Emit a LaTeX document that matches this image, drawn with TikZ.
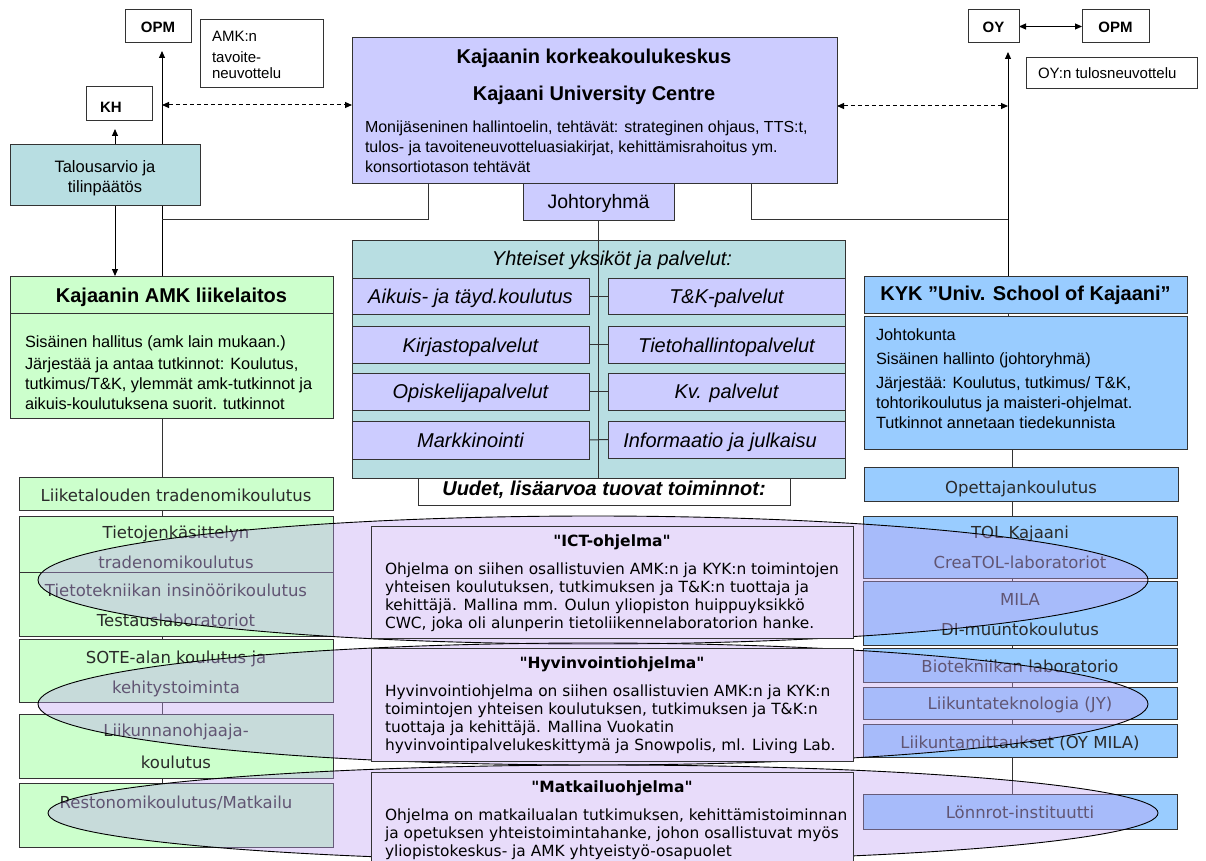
\documentclass[tikz,border=0pt]{standalone}
\usepackage{fontspec}
\setmainfont{Liberation Sans}
\newfontfamily\dv{DejaVu Sans}
\usetikzlibrary{arrows.meta}
\pgfdeclarelayer{bg}
\pgfdeclarelayer{ell}
\pgfdeclarelayer{top}
\pgfsetlayers{bg,main,ell,top}
\definecolor{cmain}{HTML}{CCCCFF}
\definecolor{cteal}{HTML}{B8DEE2}
\definecolor{cgreen}{HTML}{CCFFCC}
\definecolor{cblue}{HTML}{99CCFF}
\definecolor{clav}{HTML}{E8DCFA}
\definecolor{cell}{RGB}{192,160,242}
\definecolor{cline}{HTML}{333333}
\definecolor{ctxt}{HTML}{2A2A2A}
\newcommand\fsz[1]{\fontsize{#1}{#1}\selectfont}
\newcommand\sqd{\XeTeXglyph\XeTeXcharglyph"22\relax}
\newcommand\mybox[6]{\node[bxs,#2,anchor=north west,minimum width=#5pt-#3pt,minimum height=#6pt-#4pt] (#1) at (#3,#4) {};}
\tikzset{
  bxs/.style={rectangle,draw=cline,line width=1pt,inner sep=0pt,outer sep=0pt},
  tx/.style={inner sep=0pt,outer sep=0pt,anchor=base west},
  tc/.style={inner sep=0pt,outer sep=0pt,anchor=base},
  ln/.style={draw=cline,line width=1pt},
  arr/.style={draw=black,line width=1pt,-{Triangle[length=7pt,width=6pt]}},
  darr/.style={draw=black,line width=1pt,{Triangle[length=7pt,width=6pt]}-{Triangle[length=7pt,width=6pt]}},
  dsh/.style={dash pattern=on 4pt off 3pt},
  elst/.style={draw=black,line width=0.9pt,fill=cell,fill opacity=0.37},
  lowL/.style={tc,font=\dv\fsz{16.5},text=ctxt},
  body/.style={tx,font=\fsz{16.3}},
  prog/.style={tx,font=\dv\fsz{15.4}},
  ptitle/.style={tc,font=\dv\bfseries\fsz{15.5}},
  rowt/.style={tc,font=\itshape\fsz{20}}
}
\begin{document}
\begin{tikzpicture}[x=1pt,y=-1pt]
\begin{pgfonlayer}{bg}
\fill[white] (0,0) rectangle (1206,861);
\end{pgfonlayer}
\useasboundingbox (0,0) rectangle (1206,861);
% ---------- top boxes
\mybox{opmL}{fill=white}{125}{10}{191}{43}
\mybox{amkn}{fill=white}{200}{20}{323}{88}
\mybox{kh}{fill=white}{86}{87}{152}{121}
\mybox{talous}{fill=cteal}{10}{145}{200}{205}
\mybox{main}{fill=cmain}{352}{38}{837}{183}
\mybox{johto}{fill=cmain}{523}{183}{674}{220}
\mybox{oy}{fill=white}{968}{10}{1019}{43}
\mybox{opmR}{fill=white}{1082}{10}{1149}{43}
\mybox{oyt}{fill=white}{1026}{58}{1197}{89}
\mybox{amkh}{fill=cgreen}{10}{276}{333}{313}
\mybox{amkb}{fill=cgreen}{10}{313}{333}{418}
\mybox{yht}{fill=cteal}{352}{240}{845}{478}
\mybox{uud}{fill=white}{418}{478}{790}{505}
\draw[ln] (johto.south) -- (johto.south |- uud.north);
\mybox{a1}{fill=cmain}{352}{278}{589}{314}
\mybox{a2}{fill=cmain}{352}{326}{589}{363}
\mybox{a3}{fill=cmain}{352}{373}{589}{410}
\mybox{a4}{fill=cmain}{352}{421}{589}{459}
\mybox{b1}{fill=cmain}{608}{278}{845}{314}
\mybox{b2}{fill=cmain}{608}{326}{845}{363}
\mybox{b3}{fill=cmain}{608}{373}{845}{410}
\mybox{b4}{fill=cmain}{608}{421}{845}{458}
\draw[ln] (a1.east) -- (b1.west);
\draw[ln] (a2.east) -- (b2.west);
\draw[ln] (a3.east) -- (b3.west);
\draw[ln] (a4.east) -- (b4.west);
\mybox{kykh}{fill=cblue}{864}{276}{1187}{313}
\mybox{kykb}{fill=cblue}{864}{316}{1187}{449}
\mybox{opet}{fill=cblue}{864}{467}{1178}{501}
\mybox{liike}{fill=cgreen}{19}{477}{333}{510}
\mybox{tk1}{fill=cgreen}{19}{516}{333}{572}
\mybox{tk2}{fill=cgreen}{19}{572}{333}{636}
\mybox{sote}{fill=cgreen}{19}{639}{333}{702}
\mybox{liik}{fill=cgreen}{19}{714}{333}{778}
\mybox{resto}{fill=cgreen}{19}{783}{333}{847}
\mybox{tol}{fill=cblue}{863}{516}{1177}{578}
\mybox{mila}{fill=cblue}{863}{581}{1177}{645}
\mybox{bio}{fill=cblue}{863}{648}{1177}{682}
\mybox{ltek}{fill=cblue}{863}{687}{1177}{719}
\mybox{lmit}{fill=cblue}{863}{724}{1177}{757}
\mybox{lonn}{fill=cblue}{863}{794}{1177}{829}
% ---------- connectors (behind)
\coordinate (xL) at (162,0);
\coordinate (xK) at (115,0);
\coordinate (xR) at (1008,0);
\coordinate (xR2) at (1012,0);
\coordinate (cL) at (428,219);
\coordinate (cR) at (751,219);
\coordinate (dL) at (162,105);
\coordinate (dR) at (1008,106);
\begin{pgfonlayer}{bg}
\draw[arr,shorten >=8pt] (amkh.north -| xL) -- (opmL.south -| xL);
\draw[arr,shorten >=8pt] (talous.north -| xK) -- (kh.south -| xK);
\draw[arr] (talous.south -| xK) -- (amkh.north -| xK);
\draw[ln] (main.south -| cL) -- (cL) -- (cL -| xL);
\draw[darr,dsh] (dL) -- (dL -| main.west);
\draw[arr,shorten >=9pt] (kykh.north -| xR) -- (oy.south -| xR);
\draw[ln] (main.south -| cR) -- (cR) -- (cR -| xR);
\draw[darr,dsh] (dR -| main.east) -- (dR);
\draw[darr] (oy.east) -- (opmR.west);
\draw[ln] (amkb.south -| xL) -- (liike.north -| xL);
\draw[ln] (liike.south -| xL) -- (tk1.north -| xL);
\draw[ln] (tk2.south -| xL) -- (sote.north -| xL);
\draw[ln] (sote.south -| xL) -- (liik.north -| xL);
\draw[ln] (liik.south -| xL) -- (resto.north -| xL);
\draw[ln] (kykh.south -| xR) -- (kykb.north -| xR);
\draw[ln] (kykb.south -| xR2) -- (opet.north -| xR2);
\draw[ln] (opet.south -| xR2) -- (tol.north -| xR2);
\draw[ln] (tol.south -| xR2) -- (mila.north -| xR2);
\draw[ln] (mila.south -| xR2) -- (bio.north -| xR2);
\draw[ln] (bio.south -| xR2) -- (ltek.north -| xR2);
\draw[ln] (ltek.south -| xR2) -- (lmit.north -| xR2);
\draw[ln] (lmit.south -| xR2) -- (lonn.north -| xR2);
\end{pgfonlayer}
% ---------- texts top
\node[tc,font=\bfseries\fsz{15}] (topmL) at (158,33) {OPM};
\node[tx,font=\fsz{15}] (tam1) at (212,42) {AMK:n};
\node[tx,font=\fsz{15}] (tam2) at (212,63) {tavoite-};
\node[tx,font=\fsz{15}] (tam3) at (212,79) {neuvottelu};
\node[tc,font=\bfseries\fsz{15}] (tkh) at (111,112.5) {KH};
\node[tc,font=\fsz{16.5}] (tta1) at (105,173) {Talousarvio ja};
\node[tc,font=\fsz{16.5}] (tta2) at (105,193) {tilinpäätös};
\node[tc,font=\bfseries\fsz{20}] (tm1) at (594,64) {Kajaanin korkeakoulukeskus};
\node[tc,font=\bfseries\fsz{20}] (tm2) at (594,101) {Kajaani University Centre};
\node[tx,font=\fsz{16}] (tm3) at (365,133) {Monijäseninen hallintoelin, tehtävät: strateginen ohjaus, TTS:t,};
\node[tx,font=\fsz{16}] (tm4) at (365,153) {tulos- ja tavoiteneuvotteluasiakirjat, kehittämisrahoitus ym.};
\node[tx,font=\fsz{16}] (tm5) at (365,173) {konsortiotason tehtävät};
\node[tc,font=\fsz{19.5}] (tjo) at (598.5,208.5) {Johtoryhmä};
\node[tc,font=\bfseries\fsz{15}] (toy) at (993.5,33) {OY};
\node[tc,font=\bfseries\fsz{15}] (topmR) at (1115.5,33) {OPM};
\node[tx,font=\fsz{15}] (toyt) at (1038,79) {OY:n tulosneuvottelu};
% AMK
\node[tc,font=\bfseries\fsz{20}] (tah) at (171.5,302) {Kajaanin AMK liikelaitos};
\node[body] (tab1) at (25,347) {Sisäinen hallitus (amk lain mukaan.)};
\node[body] (tab2) at (25,369) {Järjestää ja antaa tutkinnot: Koulutus,};
\node[body] (tab3) at (25,389) {tutkimus/T\&K, ylemmät amk-tutkinnot ja};
\node[body] (tab4) at (25,409) {aikuis-koulutuksena suorit. tutkinnot};
% Yhteiset
\node[tc,font=\itshape\fsz{20}] (tyh) at (612,265) {Yhteiset yksiköt ja palvelut:};
\node[rowt] (ta1) at (470.5,303) {Aikuis- ja täyd.koulutus};
\node[rowt] (ta2) at (470.5,352) {Kirjastopalvelut};
\node[rowt] (ta3) at (470.5,398.5) {Opiskelijapalvelut};
\node[rowt] (ta4) at (470.5,447) {Markkinointi};
\node[rowt] (tb1) at (726.5,303) {T\&K-palvelut};
\node[rowt] (tb2) at (726.5,352) {Tietohallintopalvelut};
\node[rowt] (tb3) at (726.5,398.5) {Kv. palvelut};
\node[rowt] (tb4) at (720,447) {Informaatio ja julkaisu};
\node[tc,font=\bfseries\itshape\fsz{20}] (tuu) at (604,495) {Uudet, lisäarvoa tuovat toiminnot:};
% KYK
\node[tc,font=\bfseries\fsz{20}] (tkh2) at (1025.5,300) {KYK ”Univ. School of Kajaani”};
\node[body] (tk1t) at (876,340) {Johtokunta};
\node[body] (tk2t) at (876,364) {Sisäinen hallinto (johtoryhmä)};
\node[body] (tk3t) at (876,388) {Järjestää: Koulutus, tutkimus/ T\&K,};
\node[body] (tk4t) at (876,408) {tohtorikoulutus ja maisteri-ohjelmat.};
\node[body] (tk5t) at (876,428) {Tutkinnot annetaan tiedekunnista};
\node[lowL] (top1) at (1021,493) {Opettajankoulutus};
% left lower
\node[lowL] (tl1) at (176,501) {Liiketalouden tradenomikoulutus};
\node[lowL] (tl2) at (176,538) {Tietojenkäsittelyn};
\node[lowL] (tl3) at (176,568) {tradenomikoulutus};
\node[lowL] (tl4) at (176,596) {Tietotekniikan insinöörikoulutus};
\node[lowL] (tl5) at (176,626) {Testauslaboratoriot};
\node[lowL] (tl6) at (176,663) {SOTE-alan koulutus ja};
\node[lowL] (tl7) at (176,693) {kehitystoiminta};
\node[lowL] (tl8) at (176,736) {Liikunnanohjaaja-};
\node[lowL] (tl9) at (176,768) {koulutus};
\node[lowL] (tl10) at (176,808) {Restonomikoulutus/Matkailu};
% right lower
\node[lowL] (tr1) at (1020,538) {TOL Kajaani};
\node[lowL] (tr2) at (1020,568) {CreaTOL-laboratoriot};
\node[lowL] (tr3) at (1020,605) {MILA};
\node[lowL] (tr4) at (1020,635) {DI-muuntokoulutus};
\node[lowL] (tr5) at (1020,672) {Biotekniikan laboratorio};
\node[lowL] (tr6) at (1020,709) {Liikuntateknologia (JY)};
\node[lowL] (tr7) at (1020,748) {Liikuntamittaukset (OY MILA)};
\node[lowL] (tr8) at (1020,818) {Lönnrot-instituutti};
% ---------- ellipses
\begin{pgfonlayer}{ell}
\draw[elst] (593,580) ellipse [x radius=555pt, y radius=64pt];
\draw[elst] (593,704) ellipse [x radius=555pt, y radius=61pt];
\draw[elst] (603,813) ellipse [x radius=555pt, y radius=48pt];
\end{pgfonlayer}
% ---------- programme boxes
\begin{pgfonlayer}{top}
\mybox{ict}{fill=clav}{371}{526}{853}{638}
\mybox{hyv}{fill=clav}{371}{648}{853}{761}
\mybox{mat}{fill=clav}{371}{772}{853}{872}
\node[ptitle] (pi0) at (612,546.5) {\sqd ICT-ohjelma\sqd};
\node[prog] (pi1) at (385,574.5) {Ohjelma on siihen osallistuvien AMK:n ja KYK:n toimintojen};
\node[prog] (pi2) at (385,592.5) {yhteisen koulutuksen, tutkimuksen ja T\&K:n tuottaja ja};
\node[prog] (pi3) at (385,610.5) {kehittäjä. Mallina mm. Oulun yliopiston huippuyksikkö};
\node[prog] (pi4) at (385,628.5) {CWC, joka oli alunperin tietoliikennelaboratorion hanke.};
\node[ptitle] (ph0) at (612,668.5) {\sqd Hyvinvointiohjelma\sqd};
\node[prog] (ph1) at (385,696.5) {Hyvinvointiohjelma on siihen osallistuvien AMK:n ja KYK:n};
\node[prog] (ph2) at (385,714) {toimintojen yhteisen koulutuksen, tutkimuksen ja T\&K:n};
\node[prog] (ph3) at (385,732.5) {tuottaja ja kehittäjä. Mallina Vuokatin};
\node[prog] (ph4) at (385,750.5) {hyvinvointipalvelukeskittymä ja Snowpolis, ml. Living Lab.};
\node[ptitle] (pm0) at (612,792) {\sqd Matkailuohjelma\sqd};
\node[prog] (pm1) at (385,820.5) {Ohjelma on matkailualan tutkimuksen, kehittämistoiminnan};
\node[prog] (pm2) at (385,838.5) {ja opetuksen yhteistoimintahanke, johon osallistuvat myös};
\node[prog] (pm3) at (385,856) {yliopistokeskus- ja AMK yhtyeistyö-osapuolet};
\end{pgfonlayer}
\end{tikzpicture}
\end{document}
